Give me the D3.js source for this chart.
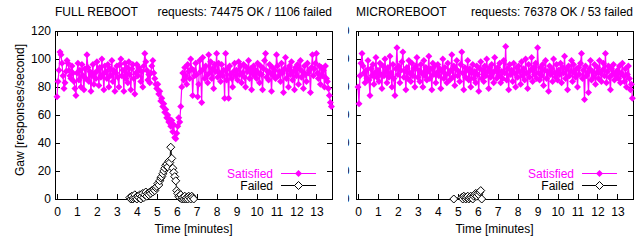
<!DOCTYPE html>
<html>
<head>
<meta charset="utf-8">
<script src="https://cdn.jsdelivr.net/npm/d3@7/dist/d3.min.js"></script>
<style>
body { margin:0; background:#fff; }
text { font-family: "Liberation Sans", Arial, Helvetica, sans-serif; font-size:12px; fill:#000; }
</style>
</head>
<body>
<svg id="chart" width="640" height="243"></svg>
<script>
// samples every 3 seconds
var step = 0.05
var xTicks = [0,1,2,3,4,5,6,7,8,9,10,11,12,13]
var yTicks = [0,20,40,60,80,100,120]

// FULL REBOOT, satisfied req/s (one row per minute)
var leftSatisfied = [
  73,84,92,105,103,97,88,79,83,91,99,97,92,88,86,95,90,84,79,74,
  90,97,85,92,80,96,88,78,93,86,103,94,84,91,77,88,96,82,90,86,
  98,92,81,94,87,100,89,78,95,91,86,96,80,93,88,99,84,92,77,90,
  95,87,80,96,100,88,92,77,97,86,94,83,98,89,78,93,96,86,75,90,
  96,88,94,92,84,91,80,95,104,98,92,85,89,83,90,95,99,90,86,82,
  79,82,75,77,70,72,66,68,62,64,58,60,55,57,52,56,48,53,44,43,
  47,52,58,55,66,80,90,85,94,88,82,96,91,86,100,93,74,92,88,97,
  89,73,82,99,91,69,101,93,86,95,88,83,103,90,98,86,93,79,96,91,
  104,87,97,90,84,96,88,92,72,104,85,93,72,95,89,86,80,91,97,88,
  92,85,98,89,95,83,90,96,87,80,94,91,99,86,93,78,90,95,88,92,
  86,97,90,83,95,89,78,93,99,104,87,91,85,96,90,77,94,88,92,86,
  103,95,88,91,84,97,90,76,93,101,86,92,80,95,89,98,85,91,78,94,
  88,96,82,93,99,87,91,79,95,89,84,97,90,92,76,94,103,88,93,97,
  104,90,86,95,82,94,88,92,80,95,86,84,79,74,69,66
]
var leftFailedTimes = [
  3.65,3.7,3.75,3.8,3.85,3.9,3.95,4.0,4.05,4.1,
  4.15,4.2,4.25,4.3,4.35,4.4,4.45,4.5,4.55,4.6,
  4.65,4.7,4.75,4.8,4.85,4.9,4.95,5.0,5.05,5.1,
  5.15,5.2,5.25,5.3,5.35,5.4,5.45,5.5,5.55,5.6,
  5.65,5.7,5.75,5.8,5.85,5.9,5.95,6.0,6.05,6.1,
  6.15,6.2,6.25,6.3,6.35,6.4,6.45,6.5,6.55,6.6,
  6.65,6.7,6.75,6.8,6.85
]
var leftFailed = [
  1,0,2,0,1,3,1,0,2,1,
  3,0,2,4,1,3,5,2,4,3,
  5,4,6,5,7,6,8,9,11,10,
  13,15,16,18,20,22,24,25,23,27,
  26,37,29,22,19,16,13,6,4,2,
  1,3,0,1,0,2,0,1,0,2,
  1,0,2,1,0
]

// MICROREBOOT
var rightSatisfied = [
  80,68,88,97,104,95,90,83,92,86,99,85,74,93,88,96,82,90,101,87,
  92,84,97,89,79,95,88,100,91,83,94,87,102,90,80,96,86,74,93,108,
  89,95,83,92,98,105,87,91,78,94,86,99,90,84,97,88,93,80,95,101,
  87,92,84,96,90,80,99,88,94,85,91,102,86,93,78,97,89,95,83,90,
  96,88,93,79,91,100,86,94,89,83,97,90,85,92,103,87,95,81,93,99,
  88,91,84,96,105,90,78,94,87,92,99,85,93,80,90,96,86,91,83,95,
  89,77,93,98,86,92,84,95,88,100,91,79,94,87,96,90,83,101,92,86,
  94,88,97,83,91,86,99,90,109,85,93,78,96,89,92,84,97,90,80,94,
  87,95,91,82,98,88,93,85,100,90,79,96,87,92,101,84,94,89,97,86,
  108,90,85,94,88,96,81,92,99,86,91,77,95,89,93,84,100,90,87,96,
  85,92,89,97,83,94,90,102,86,93,78,95,88,91,99,84,96,90,87,93,
  80,94,89,97,104,86,92,71,95,88,90,76,93,99,85,91,87,96,82,90,
  94,86,99,90,84,92,97,88,104,83,91,95,87,78,93,89,96,85,90,88,
  92,86,95,83,90,97,88,84,93,80,89,95,86,78,82,72
]
var rightFailedTimes = [4.8,5.2,5.25,5.3,5.35,5.4,5.45,5.5,5.55,5.6,5.65,5.7,5.75,5.8,5.85,5.9,5.95,6.0,6.05,6.1,6.15,6.2]
var rightFailed = [0,1,0,2,1,0,1,2,0,1,2,1,0,2,3,4,2,4,3,5,6,0]

var magenta = "#ff00ff"
var top0 = 31, bottom0 = 199

var svg = d3.select("#chart")

function diamond(r) {
  return "M0," + (-r) + "L" + r + ",0L0," + r + "L" + (-r) + ",0Z"
}

function drawPanel(p) {
  var x = d3.scaleLinear().domain([-0.1, 13.78]).range([p.left, p.right])
  var y = d3.scaleLinear().domain([0, 120]).range([bottom0, top0])
  var g = svg.append("g")

  var sat = p.sat.map(function(v, i) { return {t: i * step, v: v} })
  var fail = p.failT.map(function(t, i) { return {t: t, v: p.fail[i]} })

  var line = d3.line()
    .x(function(d) { return x(d.t) })
    .y(function(d) { return y(d.v) })

  // axes, ticks inward on all four sides
  g.append("g")
    .attr("transform", "translate(0," + bottom0 + ")")
    .call(d3.axisBottom(x).tickValues(xTicks).tickSize(-5).tickPadding(8))
    .call(function(a) { a.select(".domain").remove() })
  g.append("g")
    .attr("transform", "translate(0," + top0 + ")")
    .call(d3.axisTop(x).tickValues(xTicks).tickSize(-5).tickFormat(""))
    .call(function(a) { a.select(".domain").remove() })
  var yl = g.append("g")
    .attr("transform", "translate(" + p.left + ",0)")
    .call(d3.axisLeft(y).tickValues(yTicks).tickSize(-5).tickPadding(4))
    .call(function(a) { a.select(".domain").remove() })
  g.append("g")
    .attr("transform", "translate(" + p.right + ",0)")
    .call(d3.axisRight(y).tickValues(yTicks).tickSize(-5).tickFormat(""))
    .call(function(a) { a.select(".domain").remove() })

  if (p.hideLabels) {
    // only the last sliver of the y labels peeks out next to the left panel
    yl.selectAll("text").remove()
    svg.append("clipPath").attr("id", "sliver")
      .append("rect").attr("x", p.left - 8).attr("y", 0).attr("width", 2).attr("height", 243)
    yl.append("g").attr("clip-path", "url(#sliver)")
      .attr("transform", "translate(" + (-p.left) + ",0)")
      .selectAll("text").data(yTicks).enter().append("text")
      .attr("x", p.left - 6.5)
      .attr("y", function(d) { return y(d) })
      .attr("dy", "0.32em")
      .attr("text-anchor", "end")
      .text(function(d) { return d })
  }

  g.selectAll(".tick line").attr("shape-rendering", "crispEdges")

  g.append("rect")
    .attr("x", p.left + 0.5).attr("y", top0 + 0.5)
    .attr("width", p.right - p.left).attr("height", bottom0 - top0)
    .attr("fill", "none").attr("stroke", "#000").attr("stroke-width", 1)
    .attr("shape-rendering", "crispEdges")

  // satisfied
  g.append("path").datum(sat)
    .attr("fill", "none").attr("stroke", magenta).attr("stroke-width", 1.2)
    .attr("d", line)
  g.selectAll(".sat").data(sat).enter().append("path")
    .attr("class", "sat")
    .attr("d", diamond(3.5))
    .attr("fill", magenta)
    .attr("transform", function(d) { return "translate(" + x(d.t) + "," + y(d.v) + ")" })

  // failed
  g.append("path").datum(fail)
    .attr("fill", "none").attr("stroke", "#000").attr("stroke-width", 1)
    .attr("d", line)
  g.selectAll(".fail").data(fail).enter().append("path")
    .attr("class", "fail")
    .attr("d", diamond(4))
    .attr("fill", "#fff").attr("stroke", "#000").attr("stroke-width", 1)
    .attr("transform", function(d) { return "translate(" + x(d.t) + "," + y(d.v) + ")" })

  // titles
  g.append("text").attr("x", p.left).attr("y", 16).text(p.title)
  g.append("text").attr("x", p.right).attr("y", 16).attr("text-anchor", "end").text(p.requests)

  g.append("text")
    .attr("x", (p.left + p.right) / 2).attr("y", 233)
    .attr("text-anchor", "middle")
    .text("Time [minutes]")

  // legend
  var lx = p.right - 59
  g.append("text").attr("x", lx).attr("y", 178).attr("text-anchor", "end")
    .style("fill", magenta).text("Satisfied")
  g.append("line").attr("x1", lx + 8).attr("x2", lx + 43).attr("y1", 173.5).attr("y2", 173.5)
    .attr("stroke", magenta)
  g.append("path").attr("d", diamond(3.5)).attr("fill", magenta)
    .attr("transform", "translate(" + (lx + 25.5) + ",173.5)")
  g.append("text").attr("x", lx).attr("y", 190).attr("text-anchor", "end").text("Failed")
  g.append("line").attr("x1", lx + 8).attr("x2", lx + 43).attr("y1", 185.5).attr("y2", 185.5)
    .attr("stroke", "#000")
  g.append("path").attr("d", diamond(4)).attr("fill", "#fff").attr("stroke", "#000")
    .attr("transform", "translate(" + (lx + 25.5) + ",185.5)")
}

drawPanel({title: "FULL REBOOT", requests: "requests: 74475 OK / 1106 failed",
  sat: leftSatisfied, failT: leftFailedTimes, fail: leftFailed, left: 55, right: 332, hideLabels: false})
drawPanel({title: "MICROREBOOT", requests: "requests: 76378 OK / 53 failed",
  sat: rightSatisfied, failT: rightFailedTimes, fail: rightFailed, left: 356, right: 633, hideLabels: true})

svg.append("text")
  .attr("transform", "translate(24,110)rotate(-90)")
  .attr("text-anchor", "middle")
  .text("Gaw [responses/second]")
</script>
</body>
</html>
